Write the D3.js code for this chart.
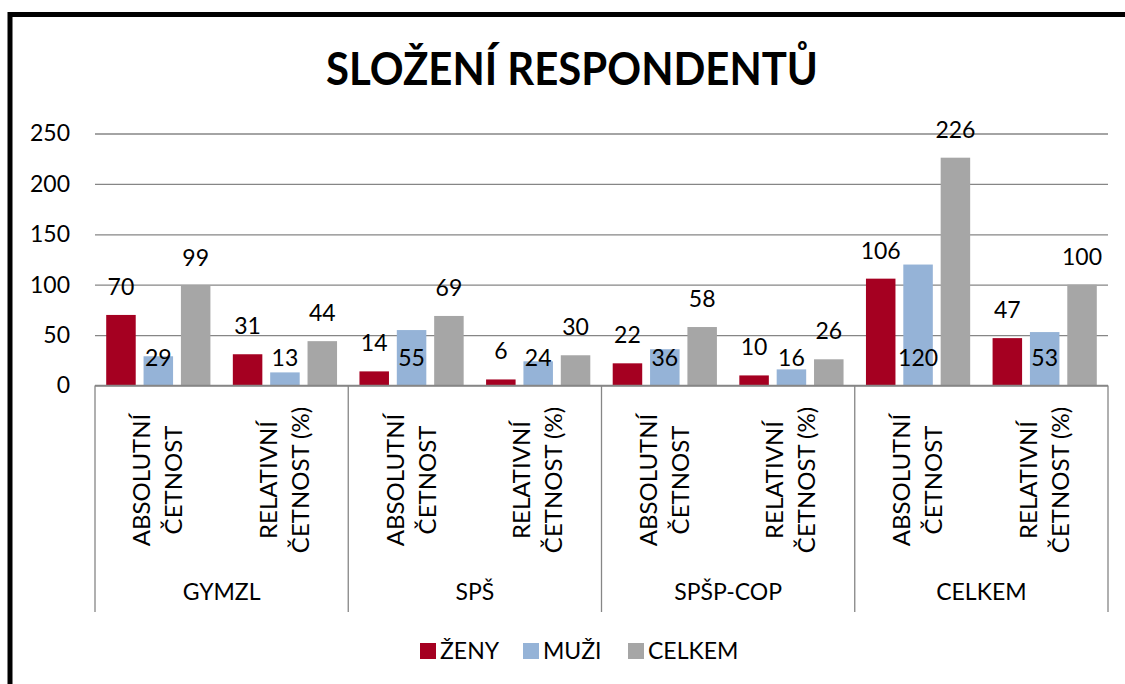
<!doctype html>
<html>
<head>
    <meta charset="utf-8">
    <title>Složení respondentů</title>
    <style>
        body {
            margin: 0;
            padding: 0;
            background: #fff;
        }
        svg text {
            font-family: Lato, "Open Sans", sans-serif;
            fill: #000;
        }
    </style>
</head>
<body>
    <svg id="chart" width="1125" height="684"></svg>

    <script src="https://d3js.org/d3.v7.min.js"></script>
    <script>
        // data
        var groups = ["GYMZL", "SPŠ", "SPŠP-COP", "CELKEM"];
        var measures = [["ABSOLUTNÍ", "ČETNOST"], ["RELATIVNÍ", "ČETNOST (%)"]];
        var seriesNames = ["ŽENY", "MUŽI", "CELKEM"];
        var zeny = [70, 31, 14, 6, 22, 10, 106, 47];
        var muzi = [29, 13, 55, 24, 36, 16, 120, 53];
        var celkem = [99, 44, 69, 30, 58, 26, 226, 100];
        var yTicks = [0, 50, 100, 150, 200, 250];

        var colors = ["#A50021", "#95B3D7", "#A6A6A6"];
        var seriesValues = [zeny, muzi, celkem];

        var plotLeft = 95, plotRight = 1108, plotTop = 133.5, plotBottom = 385.5, boxBottom = 612;

        var svg = d3.select("#chart");

        // thick outer frame (cut off on the right and bottom like the source)
        svg.append("rect")
            .attr("x", 10)
            .attr("y", 14.5)
            .attr("width", 1200)
            .attr("height", 800)
            .style("fill", "none")
            .style("stroke", "#000")
            .style("stroke-width", 5);

        svg.append("text")
            .attr("x", 572)
            .attr("y", 85)
            .attr("text-anchor", "middle")
            .attr("textLength", 492)
            .attr("lengthAdjust", "spacingAndGlyphs")
            .style("font-size", "46px")
            .style("font-weight", "bold")
            .text("SLOŽENÍ RESPONDENTŮ");

        // one key per leaf category
        var leaves = [];
        groups.forEach(function(g, gi) {
            measures.forEach(function(m, mi) {
                leaves.push({ group: g, measure: m, idx: gi * measures.length + mi });
            });
        });

        var x0 = d3.scaleBand()
            .domain(leaves.map(function(d) { return d.idx; }))
            .range([plotLeft, plotRight])
            .padding(0);

        var xGroup = d3.scaleBand()
            .domain(groups)
            .range([plotLeft, plotRight])
            .padding(0);

        var x1 = d3.scaleBand()
            .domain(d3.range(seriesNames.length))
            .range([0, x0.bandwidth()])
            .paddingInner(0.21)
            .paddingOuter(0.3);

        var y = d3.scaleLinear()
            .domain([0, 250])
            .range([plotBottom, plotTop]);

        // gridlines + value axis labels
        var yAxis = svg.append("g")
            .attr("transform", "translate(" + plotLeft + ",0)")
            .call(d3.axisLeft(y).tickValues(yTicks).tickSize(-(plotRight - plotLeft)).tickPadding(25));
        yAxis.select(".domain").remove();
        yAxis.selectAll(".tick line")
            .style("stroke", "#868686")
            .style("stroke-width", 1.3);
        yAxis.selectAll(".tick text")
            .style("font-family", "Lato, sans-serif")
            .style("font-size", "23px")
            .style("fill", "#000");

        // bars
        var leafG = svg.selectAll(".leaf")
            .data(leaves)
            .enter().append("g")
            .attr("class", "leaf")
            .attr("transform", function(d) { return "translate(" + x0(d.idx) + ",0)"; });

        leafG.selectAll("rect")
            .data(function(d) { return seriesValues.map(function(s, si) { return { si: si, v: s[d.idx] }; }); })
            .enter().append("rect")
            .attr("x", function(d) { return x1(d.si); })
            .attr("width", x1.bandwidth())
            .attr("y", function(d) { return y(d.v); })
            .attr("height", function(d) { return y(0) - y(d.v); })
            .style("fill", function(d) { return colors[d.si]; });

        // labels: red and grey above the bar, blue at the inside base
        leafG.selectAll(".val")
            .data(function(d) { return seriesValues.map(function(s, si) { return { si: si, v: s[d.idx] }; }); })
            .enter().append("text")
            .attr("class", "val")
            .attr("x", function(d) { return x1(d.si) + x1.bandwidth() / 2; })
            .attr("y", function(d) { return d.si === 1 ? y(0) - 19.5 : y(d.v) - 20; })
            .attr("text-anchor", "middle")
            .style("font-size", "23px")
            .text(function(d) { return d.v; });

        // category axis box
        var axisLines = svg.append("g")
            .style("stroke", "#868686")
            .style("stroke-width", 1.3);
        axisLines.append("line")
            .attr("x1", plotLeft).attr("x2", plotRight)
            .attr("y1", plotBottom).attr("y2", plotBottom);
        groups.concat([null]).forEach(function(g) {
            var xx = g === null ? plotRight : xGroup(g);
            axisLines.append("line")
                .attr("x1", xx).attr("x2", xx)
                .attr("y1", plotBottom).attr("y2", boxBottom);
        });

        // rotated two-line measure labels
        leaves.forEach(function(d) {
            var cx = x0(d.idx) + x0.bandwidth() / 2;
            var t = svg.append("text")
                .attr("transform", "translate(" + cx + ",480) rotate(-90)")
                .attr("text-anchor", "middle")
                .style("font-size", "24px");
            d.measure.forEach(function(line, li) {
                t.append("tspan")
                    .attr("x", 0)
                    .attr("y", li === 0 ? -8 : 24)
                    .text(line);
            });
        });

        // group labels
        svg.selectAll(".grp")
            .data(groups)
            .enter().append("text")
            .attr("class", "grp")
            .attr("x", function(d) { return xGroup(d) + xGroup.bandwidth() / 2; })
            .attr("y", 600)
            .attr("text-anchor", "middle")
            .style("font-size", "23px")
            .text(function(d) { return d; });

        // legend
        var legendX = [420, 523, 628];
        var legend = svg.selectAll(".leg")
            .data(seriesNames)
            .enter().append("g")
            .attr("class", "leg")
            .attr("transform", function(d, i) { return "translate(" + legendX[i] + ",643)"; });
        legend.append("rect")
            .attr("width", 16)
            .attr("height", 16)
            .style("fill", function(d, i) { return colors[i]; });
        legend.append("text")
            .attr("x", 20)
            .attr("y", 16)
            .style("font-size", "23px")
            .text(function(d) { return d; });
    </script>
</body>
</html>
